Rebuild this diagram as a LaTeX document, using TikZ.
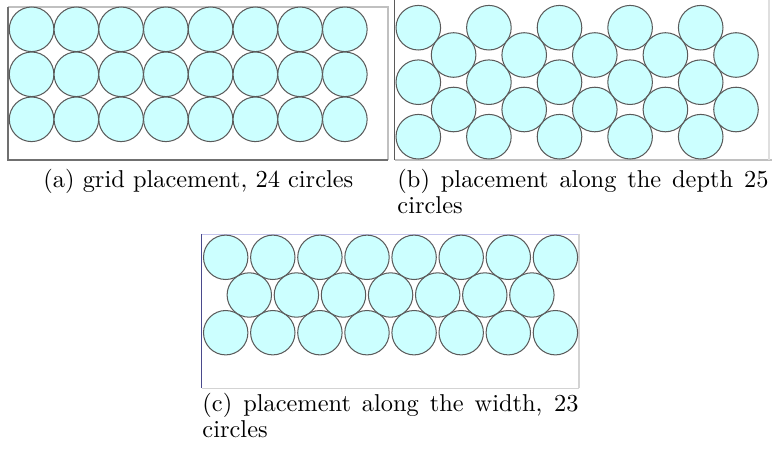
\documentclass[tikz,border=0pt]{standalone}
\definecolor{cfill}{HTML}{CCFFFF}
\definecolor{cline}{HTML}{5A5A5A}
\definecolor{fdark}{HTML}{707070}
\definecolor{flight}{HTML}{C0C0C0}
\definecolor{fblue}{HTML}{4A4A8C}
\definecolor{flav}{HTML}{C4C4EC}
\tikzset{
  disc/.style={fill=cfill,draw=cline,line width=0.42pt},
  framedark/.style={draw=fdark,line width=0.6pt},
  framelight/.style={draw=flight,line width=0.42pt},
  captext/.style={inner sep=0pt,anchor=base west,font=\fontsize{10}{10.7}\selectfont},
}
\begin{document}
\begin{tikzpicture}[x=0.41pt,y=-0.41pt]
\useasboundingbox (0,0) rectangle (772,453);
% ---------- panel (a)
\draw[framelight] (8,7) -- (388,7) -- (388,160);
\draw[framedark] (8,7) -- (8,160) -- (388,160);
\foreach \i in {0,...,7}{
  \foreach \j in {0,1,2}{
    \path[disc] ({31.6+44.75*\i},{29.3+45*\j}) circle[radius=9.14pt];
  }
}
% ---------- panel (b)
\draw[draw=flight,line width=0.42pt] (394.5,160) -- (772,160);
\draw[draw=flight!50,line width=0.42pt] (769,0) -- (769,160);
\draw[draw=fdark!80!black,line width=0.75pt] (394.5,0) -- (394.5,160);
\foreach \k in {0,2,4,6,8}{
  \foreach \m in {0,1,2}{
    \path[disc] ({418.3+35.3*\k},{27.7+54.5*\m}) circle[radius=9.14pt];
  }
}
\foreach \k in {1,3,5,7,9}{
  \foreach \m in {0,1}{
    \path[disc] ({418.3+35.3*\k},{55+54.5*\m}) circle[radius=9.14pt];
  }
}
% ---------- panel (c)
\draw[draw=flav,line width=0.42pt] (201.5,234.3) -- (579,234.3);
\draw[draw=flight!70,line width=0.82pt] (579,234.3) -- (579,388.3);
\draw[draw=flight!70,line width=0.42pt] (201.5,388.3) -- (579,388.3);
\draw[draw=fblue,line width=0.75pt] (201.5,234.3) -- (201.5,388.3);
\foreach \i in {0,...,7}{
  \path[disc] ({225.7+47.1*\i},257.3) circle[radius=9.1pt];
  \path[disc] ({225.7+47.1*\i},332.7) circle[radius=9.1pt];
}
\foreach \i in {0,...,6}{
  \path[disc] ({249.3+47.1*\i},295) circle[radius=9.1pt];
}
% ---------- captions
\node[captext] (capa) at (43,187) {(a) grid placement, 24 circles};
\node[captext,text width=152.1pt,align=justify] (capb) at (397,187)
  {(b) placement along the depth 25\linebreak circles};
\node[captext,text width=154.2pt,align=justify] (capc) at (202,411)
  {(c) placement along the width, 23\linebreak circles};
\end{tikzpicture}
\end{document}
